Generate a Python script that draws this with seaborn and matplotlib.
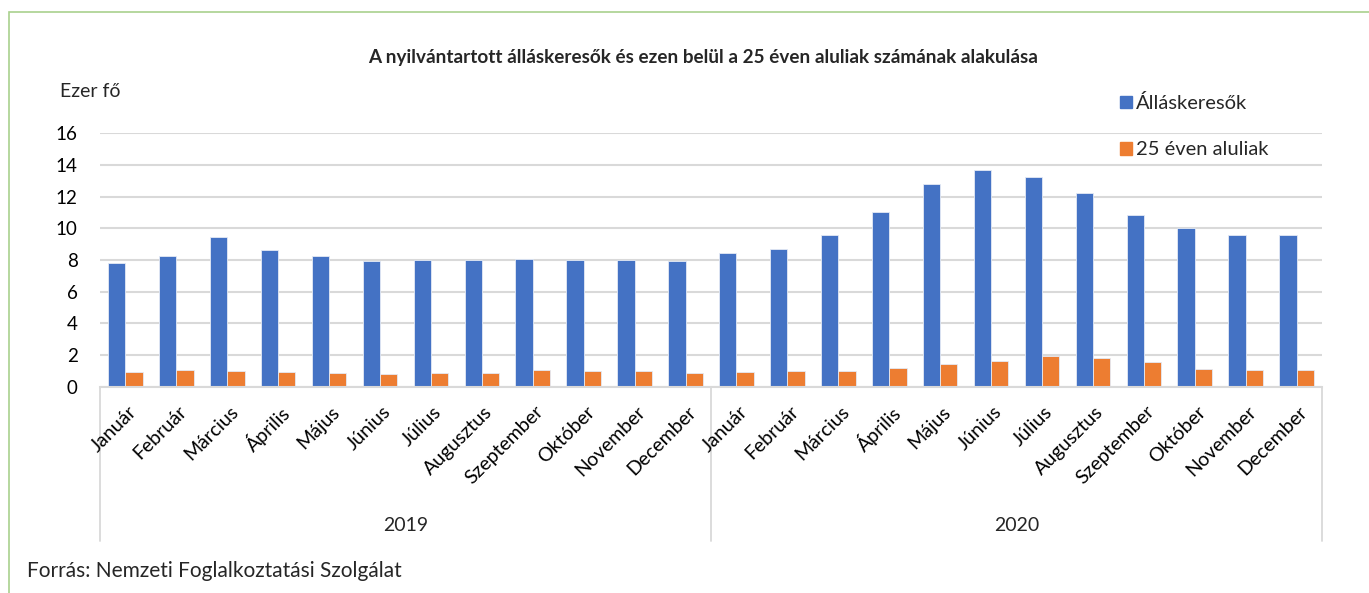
import pandas as pd
import seaborn as sns
from matplotlib import pyplot as plt
from matplotlib.patches import Rectangle
from matplotlib.transforms import ScaledTranslation

sns.set_theme(style="white")
plt.rcParams['font.family'] = ['Lato', 'DejaVu Sans']

months = ['Január', 'Február', 'Március', 'Április', 'Május', 'Június',
          'Július', 'Augusztus', 'Szeptember', 'Október', 'November', 'December']
years = ['2019', '2020']

allaskeresok_2019 = [7.84, 8.25, 9.45, 8.63, 8.23, 7.96, 8.0, 8.0, 8.04, 8.02, 8.02, 7.92]
allaskeresok_2020 = [8.47, 8.68, 9.6, 11.03, 12.77, 13.65, 13.21, 12.24, 10.86, 10.0, 9.56, 9.58]
fiatalok_2019 = [0.93, 1.05, 0.99, 0.93, 0.86, 0.84, 0.9, 0.9, 1.05, 1.03, 1.03, 0.9]
fiatalok_2020 = [0.97, 1.03, 1.0, 1.22, 1.43, 1.62, 1.93, 1.81, 1.58, 1.16, 1.07, 1.07]

series_names = ['Álláskeresők', '25 éven aluliak']
colors = ['#4472C4', '#ED7D31']

periods = [y + ' ' + m for y in years for m in months]
df = pd.DataFrame({
    'Időszak': periods * 2,
    'Sorozat': [series_names[0]] * 24 + [series_names[1]] * 24,
    'Érték': allaskeresok_2019 + allaskeresok_2020 + fiatalok_2019 + fiatalok_2020,
})

fig = plt.figure(figsize=(13.69, 5.93), dpi=100)
ax = fig.add_axes([0.073, 0.3474, 0.8927, 0.4283])

sns.barplot(data=df, x='Időszak', y='Érték', hue='Sorozat', order=periods,
            hue_order=series_names, palette=colors, saturation=1, width=0.68,
            ax=ax, edgecolor='#e4eaf5', linewidth=0.6, legend=False)

ax.set_ylim(0, 16)
ax.set_xlim(-0.5, 23.5)
ax.set_yticks(range(0, 17, 2))
ax.grid(axis='y', color='#d9d9d9', linewidth=1.5)
ax.set_axisbelow(True)
for s in ['top', 'right', 'left']:
    ax.spines[s].set_visible(False)
ax.spines['bottom'].set_color('#d9d9d9')
ax.spines['bottom'].set_linewidth(1.5)
ax.tick_params(axis='y', length=0, pad=16, labelsize=13.5, labelcolor='black')
ax.set_xticks(range(24))
ax.set_xticklabels([])
ax.tick_params(axis='x', length=0)
ax.set_xlabel('')
ax.set_ylabel('')

# month labels, rotated, ending a bit right of each group
trans = ax.get_xaxis_transform()
lab_off = trans + ScaledTranslation(0.08, -0.22, fig.dpi_scale_trans)
for i, m in enumerate(months * 2):
    ax.text(i, 0, m, transform=lab_off, rotation=45, rotation_mode='anchor',
            ha='right', va='center', fontsize=14, color='black')

# year grouping
for xpos in [-0.5, 11.5, 23.5]:
    ax.plot([xpos, xpos], [0, -0.605], transform=trans, color='#d9d9d9',
            linewidth=1.3, clip_on=False)
for i, y in enumerate(years):
    ax.text(5.5 + 12 * i, -0.545, y, transform=trans, ha='center', va='center',
            fontsize=14)

fig.text(0.5135, 1 - 57 / 593, 'A nyilvántartott álláskeresők és ezen belül a 25 éven aluliak számának alakulása',
         ha='center', va='center', fontsize=13.6, fontweight='bold')
fig.text(60 / 1369, 1 - 92 / 593, 'Ezer fő', ha='left', va='center', fontsize=14)
fig.text(27 / 1369, 1 - 571 / 593, 'Forrás: Nemzeti Foglalkoztatási Szolgálat',
         ha='left', va='center', fontsize=15)

handles = [Rectangle((0, 0), 1, 1, color=c) for c in colors]
fig.legend(handles, series_names, loc='upper left',
           bbox_to_anchor=(1102 / 1369, 1 - 76 / 593), frameon=False,
           fontsize=14.5, handlelength=0.6, handleheight=0.6, handletextpad=0.2,
           labelspacing=1.45)

fig.patches.append(Rectangle((9 / 1369, -0.1), 1.2, 1 - 12 / 593 + 0.1,
                             transform=fig.transFigure, fill=False,
                             edgecolor='#a9d18e', linewidth=1.2))

plt.savefig('out.png', dpi=100)
plt.close()
